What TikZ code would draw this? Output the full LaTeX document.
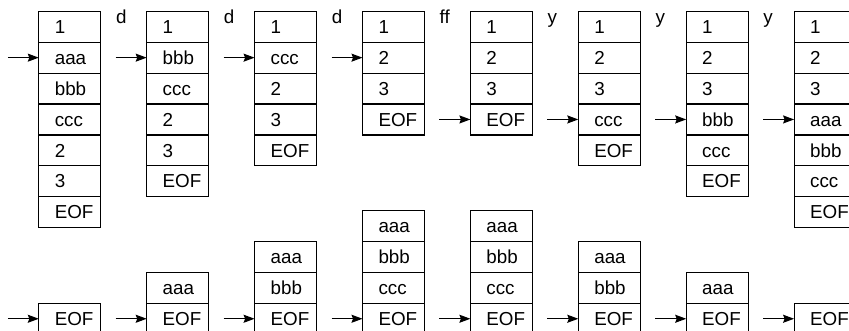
\documentclass[tikz,border=0pt]{standalone}
\usepackage{fontspec}
\setmainfont{Liberation Sans}
\usetikzlibrary{arrows.meta}

\tikzset{
  cell/.style={draw, line width=1.2bp, rectangle, anchor=north west,
    minimum width=62bp, minimum height=30.9bp, inner xsep=16bp, inner ysep=0pt,
    outer sep=0pt, text width=30bp, align=left, text height=13.3bp, text depth=0pt,
    font=\fontsize{18.8bp}{22bp}\selectfont},
  ptr/.style={line width=1.2bp, -{Stealth[length=11bp,width=8bp,inset=1.5bp]}},
  cmd/.style={inner sep=0pt, anchor=base west, font=\fontsize{18.8bp}{22bp}\selectfont}
}

\begin{document}
\begin{tikzpicture}[x=1bp,y=-1bp]
\useasboundingbox (0,0) rectangle (849,330);

% upper row: buffer with the current line
\foreach \i/\p/\cells in {1/2/{1,aaa,bbb,ccc,2,3,EOF}, 2/2/{1,bbb,ccc,2,3,EOF},
    3/2/{1,ccc,2,3,EOF}, 4/2/{1,2,3,EOF}, 5/4/{1,2,3,EOF}, 6/4/{1,2,3,ccc,EOF},
    7/4/{1,2,3,bbb,ccc,EOF}, 8/4/{1,2,3,aaa,bbb,ccc,EOF}}{
  \pgfmathsetmacro\x{38.8+(\i-1)*107.9}
  \foreach \c [count=\r] in \cells
    \node[cell] (t-\i-\r) at (\x,{11.3+(\r-1)*30.9}) {\c};
  \coordinate (tp-\i) at ([xshift=-31bp]t-\i-\p.west);
  \draw[ptr] (tp-\i) -- (t-\i-\p.west);
}

% commands between the steps
\foreach \i/\op in {1/d,2/d,3/d,4/ff,5/y,6/y,7/y}
  \node[cmd] (op-\i) at ({38.8+(\i-1)*107.9+62+15},23) {\op};

% lower row: the yank register
\foreach \i/\n/\cells in {1/1/{EOF}, 2/2/{aaa,EOF}, 3/3/{aaa,bbb,EOF},
    4/4/{aaa,bbb,ccc,EOF}, 5/4/{aaa,bbb,ccc,EOF}, 6/3/{aaa,bbb,EOF},
    7/2/{aaa,EOF}, 8/1/{EOF}}{
  \pgfmathsetmacro\x{38.8+(\i-1)*107.9}
  \foreach \c [count=\r] in \cells
    \node[cell] (b-\i-\r) at (\x,{303.3-(\n-\r)*30.9}) {\c};
  \coordinate (bp-\i) at ([xshift=-31bp]b-\i-\n.west);
  \draw[ptr] (bp-\i) -- (b-\i-\n.west);
}
\end{tikzpicture}
\end{document}
